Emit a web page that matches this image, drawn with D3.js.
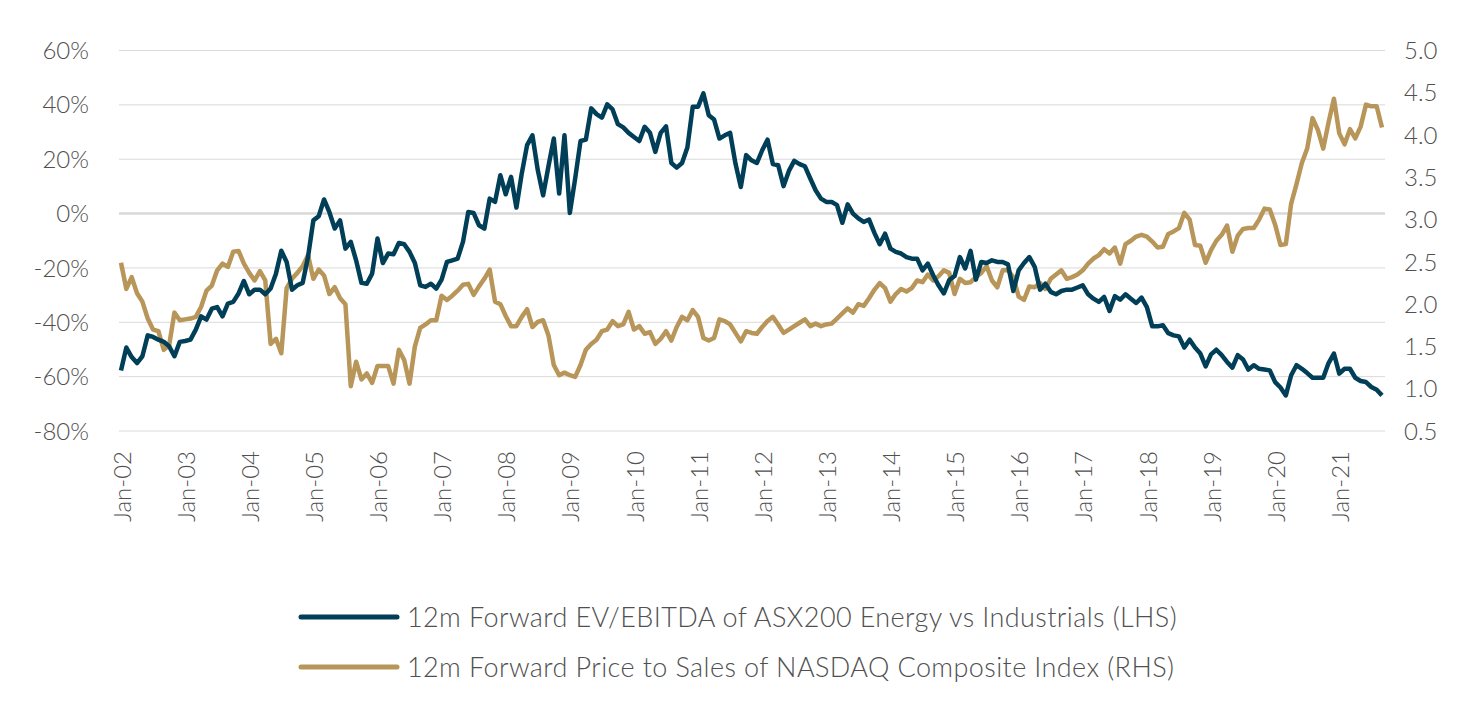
<!DOCTYPE html>
<html><head><meta charset="utf-8">
<script src="https://cdn.jsdelivr.net/npm/d3@7"></script>
<style>
body{margin:0;background:#fff;}
text{font-family:Lato,"Open Sans",sans-serif;font-weight:300;fill:#505050;}
</style></head>
<body><svg id="c" width="1477" height="716"></svg>
<script>
// Series: 12m Forward EV/EBITDA of ASX200 Energy vs Industrials (LHS, %), monthly Jan-02 onward
const evEbitda = [
-57.7,-49.3,-52.8,-55,-52.5,-44.8,-45.4,-46.4,-47.2,-48.8,-52.5,-47.2,
-46.9,-46.4,-42.7,-37.8,-39,-35,-34.4,-37.8,-33.1,-32.5,-29.4,-24.8,
-29.7,-28,-28,-29.7,-27.6,-22.1,-13.7,-17.8,-28,-26.4,-25.5,-16,
-2.5,-1,5.2,0.5,-5.5,-2.5,-12.9,-10.4,-17.2,-25.5,-25.8,-22.1,
-9.2,-18.2,-14.7,-15,-10.8,-11.3,-14.1,-18.2,-26.4,-27,-25.8,-27.6,
-24.3,-17.8,-17.2,-16.6,-10.4,0.6,0.2,-4.3,-5.5,5.5,4.3,14.1,
7.1,13.5,2.2,14.7,25.2,28.8,16,6.7,17.4,27.6,7.4,28.8,
0.2,12.9,26.7,27.2,38.7,36.6,35.3,40.2,38.3,32.9,31.7,29.7,
28.2,26.7,31.9,29.7,22.7,29.7,32.1,18.6,16.9,18.6,24.3,39.3,
39.3,44.2,36.2,34.6,27.6,28.8,29.7,18.4,9.8,21.5,19.6,18.6,
23.3,27.2,18.2,17.8,10.1,15.7,19.4,18.2,17.4,12.9,8.6,5.5,
4.3,4.3,3.1,-3.4,3.4,0,-1.8,-3.1,-2.2,-7.1,-11.3,-7.4,
-12.9,-14.1,-14.7,-16,-16.6,-16.6,-20.9,-18.4,-22.7,-26.4,-29.4,-24.5,
-23,-16,-20.2,-13.7,-24.3,-17.8,-18.2,-17.2,-17.8,-17.8,-18.7,-28.5,
-20.9,-18.2,-16,-19.6,-28,-25.8,-28.8,-29.7,-28.5,-28,-28,-27.2,
-26.4,-29.7,-31.3,-32.5,-30.7,-35.8,-30.4,-31.7,-29.7,-31.3,-32.9,-30.9,
-34.4,-41.5,-41.5,-41.1,-44,-44.8,-45.2,-49.3,-46.4,-49.3,-51.5,-56.2,
-51.8,-50.1,-52.1,-54.6,-56.7,-52.1,-53.7,-57.4,-55.8,-57.1,-57.4,-57.7,
-62,-64,-66.9,-59.5,-55.8,-57.1,-58.7,-60.4,-60.4,-60.4,-55,-51.5,
-58.9,-57.1,-57.1,-60.4,-61.6,-62,-63.8,-64.8,-66.9
];
// Series: 12m Forward Price to Sales of NASDAQ Composite Index (RHS)
const priceSales = [
2.49,2.18,2.32,2.13,2.03,1.83,1.70,1.68,1.46,1.51,1.90,1.81,
1.82,1.83,1.85,1.97,2.16,2.22,2.40,2.48,2.44,2.62,2.63,2.48,
2.37,2.28,2.39,2.28,1.53,1.59,1.42,2.19,2.30,2.37,2.45,2.58,
2.30,2.41,2.34,2.12,2.20,2.07,2.00,1.03,1.32,1.11,1.18,1.07,
1.27,1.27,1.27,1.06,1.46,1.34,1.06,1.50,1.72,1.76,1.81,1.81,
2.10,2.05,2.10,2.16,2.23,2.24,2.11,2.21,2.30,2.41,2.03,2.00,
1.86,1.74,1.74,1.85,1.94,1.73,1.79,1.81,1.63,1.28,1.16,1.19,
1.16,1.14,1.28,1.46,1.53,1.58,1.68,1.70,1.80,1.74,1.76,1.91,
1.70,1.74,1.65,1.67,1.53,1.59,1.68,1.57,1.73,1.85,1.81,1.93,
1.85,1.60,1.57,1.60,1.82,1.80,1.76,1.66,1.56,1.68,1.66,1.65,
1.73,1.80,1.85,1.76,1.66,1.70,1.74,1.78,1.82,1.74,1.77,1.74,
1.76,1.77,1.83,1.89,1.95,1.90,2.00,1.98,2.07,2.17,2.25,2.19,
2.03,2.12,2.18,2.15,2.19,2.28,2.26,2.35,2.28,2.33,2.40,2.37,
2.12,2.30,2.25,2.26,2.32,2.37,2.45,2.28,2.20,2.40,2.40,2.32,
2.09,2.05,2.21,2.20,2.25,2.18,2.30,2.35,2.40,2.30,2.32,2.35,
2.40,2.48,2.54,2.58,2.65,2.60,2.67,2.48,2.71,2.75,2.80,2.82,
2.80,2.74,2.67,2.68,2.83,2.86,2.90,3.08,3.00,2.70,2.69,2.49,
2.64,2.75,2.82,2.93,2.62,2.81,2.89,2.90,2.90,3.00,3.13,3.12,
2.94,2.70,2.71,3.19,3.42,3.67,3.84,4.20,4.06,3.84,4.15,4.43,
4.02,3.89,4.07,3.96,4.10,4.36,4.34,4.34,4.09
];
const leftTicks = [-80,-60,-40,-20,0,20,40,60];
const rightTicks = [0.5,1.0,1.5,2.0,2.5,3.0,3.5,4.0,4.5,5.0];
const xLabels = ["Jan-02","Jan-03","Jan-04","Jan-05","Jan-06","Jan-07","Jan-08","Jan-09","Jan-10","Jan-11",
"Jan-12","Jan-13","Jan-14","Jan-15","Jan-16","Jan-17","Jan-18","Jan-19","Jan-20","Jan-21"];
const seriesNames = ["12m Forward EV/EBITDA of ASX200 Energy vs Industrials (LHS)",
"12m Forward Price to Sales of NASDAQ Composite Index (RHS)"];
const colors = ["#003f57","#b89558"];

const svg = d3.select("#c");
const n = evEbitda.length;
const x = d3.scaleLinear().domain([0, n-1]).range([121, 1382]);
const yL = d3.scaleLinear().domain([-80, 60]).range([431, 50.5]);
const yR = d3.scaleLinear().domain([0.5, 5.0]).range([431, 50.5]);

// gridlines
svg.append("g").selectAll("line").data(leftTicks).join("line")
  .attr("x1", 119).attr("x2", 1385)
  .attr("y1", d=>yL(d)).attr("y2", d=>yL(d))
  .attr("stroke", "#d9d9d9")
  .attr("stroke-width", d=> d===0 ? 2.5 : 1);

// left axis labels
svg.append("g").selectAll("text").data(leftTicks).join("text")
  .attr("x", 89).attr("y", d=>yL(d)).attr("dy","0.36em")
  .attr("text-anchor","end").attr("font-size", 24)
  .text(d=>d+"%");

// right axis labels
svg.append("g").selectAll("text").data(rightTicks).join("text")
  .attr("x", 1404).attr("y", d=>yR(d)).attr("dy","0.36em")
  .attr("text-anchor","start").attr("font-size", 24)
  .text(d=>d.toFixed(1));

// x labels
svg.append("g").selectAll("text").data(xLabels).join("text")
  .attr("transform",(d,i)=>`translate(${x(i*12)+1},451) rotate(-90)`)
  .attr("dy","0.36em").attr("text-anchor","end").attr("font-size", 24)
  .text(d=>d);

// lines
const lineL = d3.line().x((d,i)=>x(i)).y(d=>yL(d));
const lineR = d3.line().x((d,i)=>x(i)).y(d=>yR(d));
svg.append("path").datum(priceSales).attr("d", lineR)
  .attr("fill","none").attr("stroke",colors[1]).attr("stroke-width",4.5).attr("stroke-linejoin","round");
svg.append("path").datum(evEbitda).attr("d", lineL)
  .attr("fill","none").attr("stroke",colors[0]).attr("stroke-width",4.5).attr("stroke-linejoin","round");

// legend
const lg = svg.append("g").selectAll("g").data(seriesNames).join("g")
  .attr("transform",(d,i)=>`translate(0,${617 + i*50})`);
lg.append("line").attr("x1",301).attr("x2",397).attr("y1",0).attr("y2",0)
  .attr("stroke",(d,i)=>colors[i]).attr("stroke-width",5).attr("stroke-linecap","round");
lg.append("text").attr("x",407).attr("y",0).attr("dy","0.36em").attr("font-size",27)
  .attr("letter-spacing","0.4px")
  .text(d=>d);
</script></body></html>
